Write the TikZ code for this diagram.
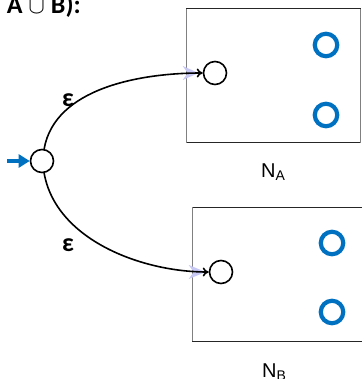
\documentclass[tikz,border=0pt]{standalone}
\usepackage{fontspec}
\setmainfont{Carlito}
\newfontfamily\arialf{Liberation Sans}
\usetikzlibrary{arrows.meta,calc}
\definecolor{nblue}{RGB}{0,112,192}
\definecolor{lav}{RGB}{200,200,245}
\tikzset{
  st/.style={circle,draw=black,line width=1.6pt,minimum size=23pt,inner sep=0pt},
  acc/.style={circle,draw=nblue,line width=4.2pt,minimum size=22.5pt,inner sep=0pt},
  epsarrow/.style={line width=1.6pt,-{To[length=6pt,width=9pt]}},
  nbox/.style={draw=black!85,line width=1pt},
  lbl/.style={font=\arialf\fontsize{20}{22}\selectfont,inner sep=0pt},
  epsl/.style={font=\bfseries\fontsize{26}{28}\selectfont,inner sep=0pt}
}
\begin{document}
\begin{tikzpicture}[x=1pt,y=-1pt]
\useasboundingbox (0,0) rectangle (361,379);
% title
\node[anchor=base east,inner sep=0pt,font=\bfseries\fontsize{26}{28}\selectfont] (title) at (81,14) {A {\fontsize{30}{30}\selectfont$\cup$} B):};
% boxes
\draw[nbox] (186,9) rectangle (360,143);
\draw[draw=gray,line width=1pt] (186,9) -- (186,143);
\draw[draw=gray,line width=1pt] (360,9) -- (360,143);
\draw[nbox] (192,207) -- (370,207);
\draw[nbox] (192,341) -- (370,341);
\draw[draw=gray,line width=1pt] (192,207) -- (192,341);
% states
\node[st] (init) at (42,161) {};
\node[st] (qa) at (215,73) {};
\node[st] (qb) at (221,272) {};
\node[acc] (fa1) at (326,45) {};
\node[acc] (fa2) at (326,115) {};
\node[acc] (fb1) at (332,243) {};
\node[acc] (fb2) at (332,312) {};
% lavender ghost arrowheads
\fill[lav] ($(qa.west)+(-20,-7)$) -- ($(qa.west)+(-4,0)$) -- ($(qa.west)+(-20,7)$) -- ($(qa.west)+(-15,0)$) -- cycle;
\fill[lav] ($(qb.west)+(-20,-7)$) -- ($(qb.west)+(-3,0)$) -- ($(qb.west)+(-20,7)$) -- ($(qb.west)+(-15,0)$) -- cycle;
% initial arrow
\coordinate (istart) at (7,161);
\draw[nblue,line width=4.5pt,-{Triangle[length=11pt,width=13pt]}] (istart) -- (init.west);
% epsilon transitions
\draw[epsarrow] (init.80) to[out=80,in=180,looseness=0.9] (qa.west);
\draw[epsarrow] (init.-80) to[out=-80,in=180,looseness=0.9] (qb.west);
\node[epsl] (e1) at (68,100) {ε};
\node[epsl] (e2) at (68,245) {ε};
% labels
\node[lbl,anchor=base west] (na) at (261,177) {N\textsubscript{A}};
\node[lbl,anchor=base west] (nb) at (262,377) {N\textsubscript{B}};
\end{tikzpicture}
\end{document}
